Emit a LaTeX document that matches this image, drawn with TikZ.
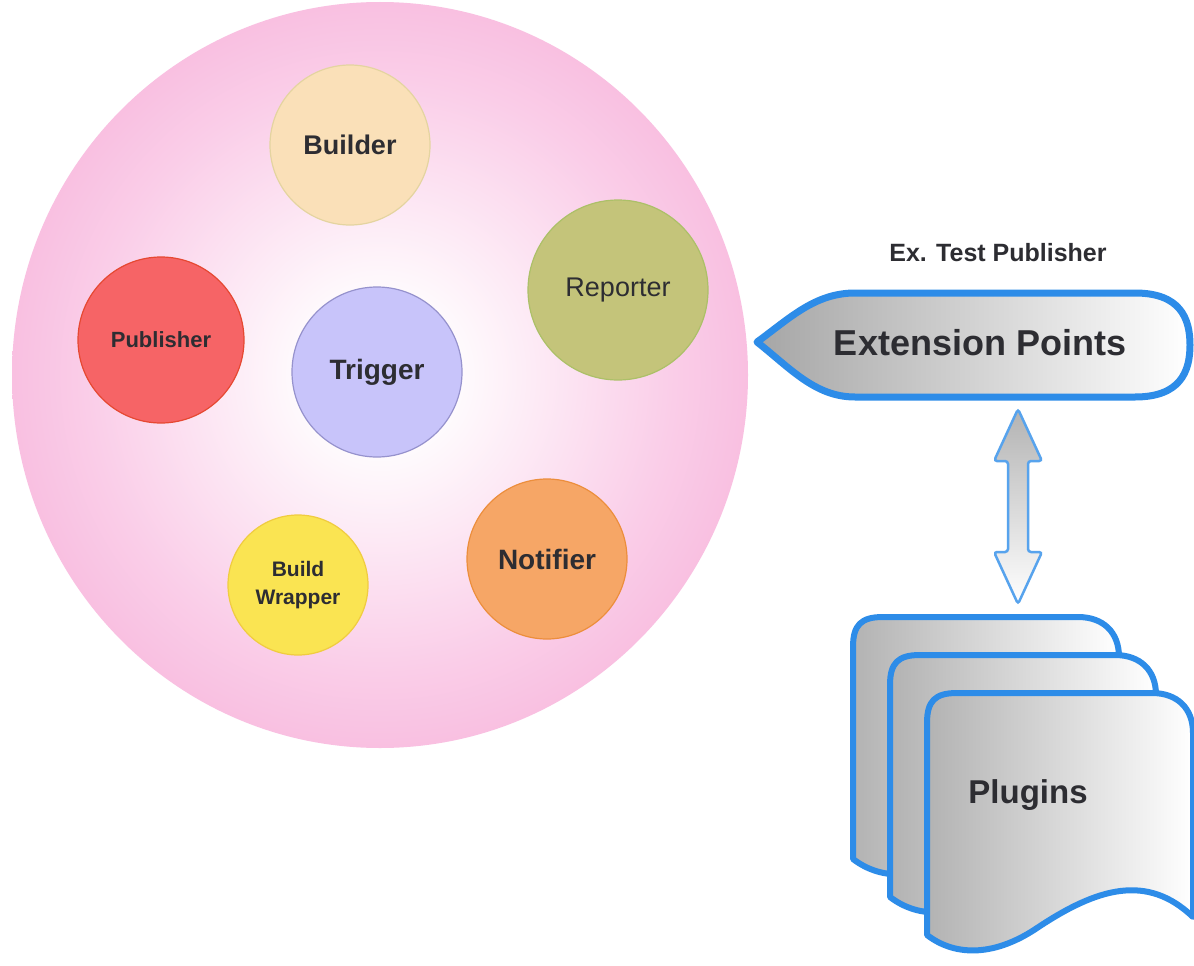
\documentclass[tikz,border=0pt]{standalone}
\usepackage{fontspec}
\setmainfont{Liberation Sans}
\usetikzlibrary{calc}
\definecolor{pinkc}{RGB}{246,168,212}
\definecolor{pinkm}{RGB}{250,205,232}
\definecolor{bluec}{RGB}{45,140,232}
\definecolor{txt}{RGB}{45,45,50}
\definecolor{builderc}{RGB}{250,224,184}
\definecolor{builderb}{RGB}{228,212,160}
\definecolor{reporterc}{RGB}{196,196,122}
\definecolor{reporterb}{RGB}{172,192,104}
\definecolor{publisherc}{RGB}{246,100,102}
\definecolor{publisherb}{RGB}{230,72,50}
\definecolor{triggerc}{RGB}{200,196,250}
\definecolor{triggerb}{RGB}{150,146,205}
\definecolor{wrapperc}{RGB}{250,228,82}
\definecolor{wrapperb}{RGB}{240,204,64}
\definecolor{notifierc}{RGB}{246,166,102}
\definecolor{notifierb}{RGB}{236,142,60}
\pgfdeclareradialshading{bigpink}{\pgfpoint{0bp}{0bp}}{color(0bp)=(white); color(4bp)=(white); color(20bp)=(pinkm); color(34bp)=(pinkc); color(50bp)=(pinkc)}
\newcommand{\plugdoc}[2]{%
  \draw[docstyle, shift={(#1,#2)}] (0,30) .. controls (0,8) and (8,0) .. (30,0) -- (225,0) .. controls (250,0) and (266,15) .. (266,40) -- (266,224) .. controls (220,180) and (170,195) .. (110,235) .. controls (70,262) and (30,265) .. (0,242) -- cycle;}
\begin{document}
\begin{tikzpicture}[x=1pt,y=-1pt,
  every node/.style={text=txt},
  circ/.style={circle, inner sep=0pt, line width=1.2pt, align=center},
  lbl/.style={font=\fontsize{#1}{#1}\selectfont\bfseries},
  docstyle/.style={draw=bluec, line width=6pt, left color=gray!60, right color=white, line join=round},
  arrowstyle/.style={draw=bluec!80, line width=2.5pt, top color=gray!60, bottom color=white, rounded corners=3pt}]
\useasboundingbox[fill=white] (0,0) rectangle (1194,966);
% big circle
\shade[shading=bigpink] (380,375) ellipse [x radius=368, y radius=373];
% components
\node[circ, fill=builderc, draw=builderb, minimum size=160pt, lbl=27pt] (builder) at (350,145) {Builder};
\node[circ, fill=reporterc, draw=reporterb, minimum size=180pt, font=\fontsize{27pt}{27pt}\selectfont] (reporter) at (618,290) {Reporter};
\node[circ, fill=publisherc, draw=publisherb, minimum size=166pt, lbl=22pt] (publisher) at (161,340) {Publisher};
\node[circ, fill=triggerc, draw=triggerb, minimum size=170pt, lbl=28pt] (trigger) at (377,372) {Trigger};
\node[circ, fill=wrapperc, draw=wrapperb, minimum size=140pt, font=\fontsize{21pt}{28pt}\selectfont\bfseries] (wrapper) at (298,585) {Build\\Wrapper};
\node[circ, fill=notifierc, draw=notifierb, minimum size=160pt, lbl=28pt] (notifier) at (547,559) {Notifier};
% extension points
\draw[draw=bluec, line width=7pt, left color=gray!70, right color=white, line join=round]
  (757,342) .. controls (790,318) and (815,293) .. (855,293) -- (1135,293)
  .. controls (1180,293) and (1190,318) .. (1190,345)
  .. controls (1190,372) and (1180,397) .. (1135,397) -- (855,397)
  .. controls (815,397) and (790,368) .. (757,342) -- cycle;
\node[lbl=36pt] (ext) at (980,343) {Extension Points};
\node[lbl=25pt] (ex) at (998,253) {Ex. Test Publisher};
% plugins
\plugdoc{853}{617}
\plugdoc{890}{655}
\plugdoc{927}{693}
\node[lbl=33pt] (plug) at (1028,795) {Plugins};
% double arrow
\coordinate (atop) at (1018,409);
\coordinate (abot) at (1018,604);
\draw[arrowstyle] (atop) -- ($(atop)+(24,52)$) -- ($(atop)+(10,52)$) -- ($(abot)+(10,-52)$) -- ($(abot)+(24,-52)$) -- (abot) -- ($(abot)+(-24,-52)$) -- ($(abot)+(-10,-52)$) -- ($(atop)+(-10,52)$) -- ($(atop)+(-24,52)$) -- cycle;
\end{tikzpicture}
\end{document}
